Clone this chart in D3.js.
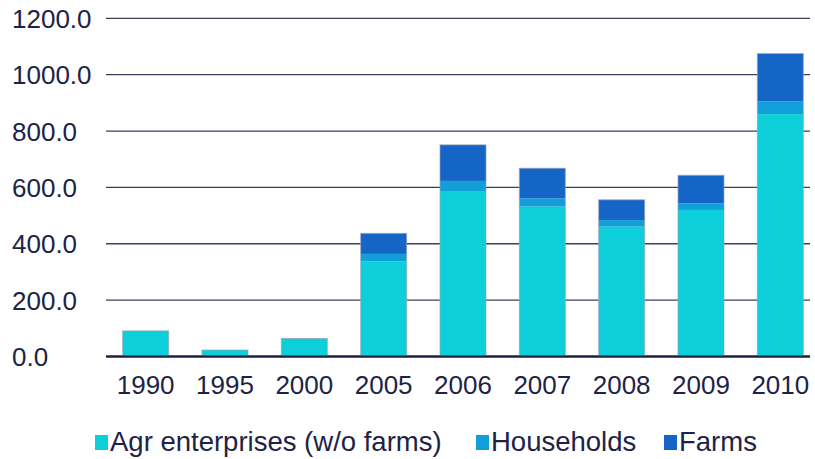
<!DOCTYPE html>
<html><head><meta charset="utf-8">
<script src="https://cdn.jsdelivr.net/npm/d3@7"></script>
<style>body{margin:0;background:#fff}svg{display:block}text{font-family:"Liberation Sans",Arial,sans-serif}</style>
</head><body><svg id="c" width="815" height="459"></svg>
<script>
const years = ["1990","1995","2000","2005","2006","2007","2008","2009","2010"];
const agr = [91, 23, 62, 337, 587, 532, 461, 520, 860];
const households = [0, 0, 2, 27, 36, 29, 23, 23, 45];
const farms = [0, 0, 0, 73, 128, 107, 72, 100, 170];
const seriesNames = ["Agr enterprises (w/o farms)", "Households", "Farms"];
const colors = ["#0ccfd9", "#109fd9", "#1565c6"];
const yTicks = [0, 200, 400, 600, 800, 1000, 1200];

const svg = d3.select("#c");
const x = d3.scaleBand().domain(years).range([106, 820]).paddingInner(0.42).paddingOuter(0.21);
const y = d3.scaleLinear().domain([0, 1200]).range([356.5, 18.3]);

// gridlines
svg.append("g").selectAll("line").data(yTicks).join("line")
  .attr("x1", 106).attr("x2", 810)
  .attr("y1", d => y(d)).attr("y2", d => y(d))
  .attr("stroke", d => d === 0 ? "#1d2040" : "#3a4058")
  .attr("stroke-width", d => d === 0 ? 2 : 1.3);

// y labels
svg.append("g").selectAll("text").data(yTicks).join("text")
  .attr("x", 12).attr("y", d => y(d) + 9.5)
  .attr("font-size", 26).attr("fill", "#1d2347")
  .text(d => d3.format(".1f")(d));

const rows = years.map((yr, i) => ({year: yr, agr: agr[i], households: households[i], farms: farms[i]}));
const stack = d3.stack().keys(["agr", "households", "farms"])(rows);

svg.append("g").selectAll("g").data(stack).join("g")
  .attr("fill", (d, i) => colors[i])
  .selectAll("rect").data(d => d).join("rect")
  .attr("x", d => x(d.data.year))
  .attr("width", x.bandwidth())
  .attr("y", d => y(d[1]))
  .attr("height", d => Math.max(0, y(d[0]) - y(d[1])));

// bar outline
svg.append("g").selectAll("rect").data(rows).join("rect")
  .attr("x", d => x(d.year)).attr("width", x.bandwidth())
  .attr("y", d => y(d.agr + d.households + d.farms))
  .attr("height", d => y(0) - y(d.agr + d.households + d.farms))
  .attr("fill", "none").attr("stroke", "#9aa3b5").attr("stroke-width", 1).attr("stroke-opacity", 0.7);

// baseline on top
svg.append("line").attr("x1", 106).attr("x2", 810).attr("y1", y(0)).attr("y2", y(0))
  .attr("stroke", "#1d2040").attr("stroke-width", 2);

// x labels
svg.append("g").selectAll("text").data(years).join("text")
  .attr("x", d => x(d) + x.bandwidth() / 2).attr("y", 394)
  .attr("text-anchor", "middle").attr("font-size", 26).attr("fill", "#1d2347")
  .text(d => d);

// legend
const legX = [95, 476, 664];
const leg = svg.append("g").selectAll("g").data(seriesNames).join("g")
  .attr("transform", (d, i) => `translate(${legX[i]},0)`);
leg.append("rect").attr("x", 0).attr("y", 435).attr("width", 13).attr("height", 15)
  .attr("fill", (d, i) => colors[i]);
leg.append("text").attr("x", 15).attr("y", 451).attr("font-size", 27.5).attr("fill", "#1d2347")
  .text(d => d);
</script></body></html>
